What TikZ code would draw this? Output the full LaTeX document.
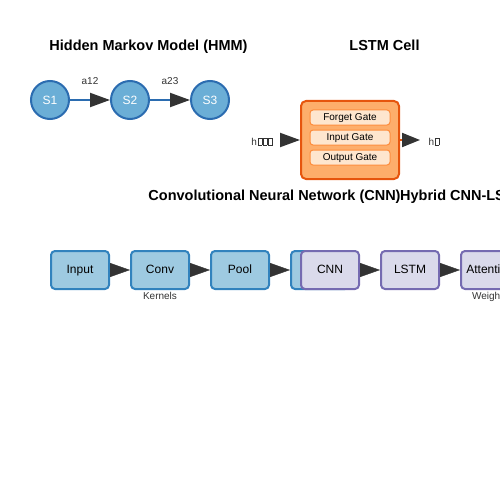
\documentclass[tikz,border=0pt]{standalone}
\usepackage{fontspec}
\setmainfont{Liberation Sans}
\usetikzlibrary{arrows.meta}
\definecolor{hmmfill}{HTML}{6BAED6}
\definecolor{hmmline}{HTML}{2B6CB0}
\definecolor{cnnfill}{HTML}{9ECAE1}
\definecolor{cnnline}{HTML}{3182BD}
\definecolor{hybfill}{HTML}{DADAEB}
\definecolor{hybline}{HTML}{756BB1}
\definecolor{lstmfill}{HTML}{FDAE6B}
\definecolor{lstmline}{HTML}{E6550D}
\definecolor{gatefill}{HTML}{FEE6CE}
\definecolor{gateline}{HTML}{FD8D3C}
\definecolor{tipgray}{HTML}{333333}
% empty glyph boxes, as the picture prints them
\newcommand{\tofu}{{\fboxsep=0pt\fboxrule=0.5pt\kern0.8pt\fbox{\rule{0pt}{7pt}\rule{3.4pt}{0pt}}}}
\begin{document}
\begin{tikzpicture}[x=1pt,y=-1pt,
    title/.style={font=\fontsize{14.5}{16}\selectfont\bfseries, text=black, anchor=base},
    state/.style={circle, draw=hmmline, fill=hmmfill, line width=2pt, minimum size=38pt,
      inner sep=0pt, text=white, font=\fontsize{12}{14}\selectfont},
    layer/.style={rounded corners=4pt, line width=2pt, minimum width=58pt, minimum height=38pt,
      inner sep=0pt, text height=8.6pt, text depth=2.4pt, font=\fontsize{12}{14}\selectfont},
    cnnbox/.style={layer, draw=cnnline, fill=cnnfill},
    hybbox/.style={layer, draw=hybline, fill=hybfill},
    gate/.style={rounded corners=3pt, draw=gateline, fill=gatefill, line width=1pt,
      minimum width=80pt, minimum height=15pt, inner sep=0pt, text height=7.2pt, text depth=2pt,
      font=\fontsize{10}{12}\selectfont},
    small/.style={font=\fontsize{10}{12}\selectfont, text=black!80, inner sep=0pt},
    tip/.style={-{Triangle[length=20pt,width=14pt,color=tipgray]}}]
    \useasboundingbox (0,0) rectangle (500,500);
    \clip (0,0) rectangle (500,500);

    % HMM
    \node[title] (hmmtitle) at (148.5,50.5) {Hidden Markov Model (HMM)};
    \node[state] (s1) at (50,100) {S1};
    \node[state] (s2) at (130,100) {S2};
    \node[state] (s3) at (210,100) {S3};
    \draw[hmmline, line width=2pt, tip] (s1) -- (s2) node[midway, small, yshift=19pt] {a12};
    \draw[hmmline, line width=2pt, tip] (s2) -- (s3) node[midway, small, yshift=19pt] {a23};

    % LSTM cell
    \node[title] (lstmtitle) at (384.5,50.5) {LSTM Cell};
    \node[rounded corners=5pt, draw=lstmline, fill=lstmfill, line width=2pt,
      minimum width=98pt, minimum height=78pt] (cell) at (350,140) {};
    \node[gate] (forget) at (350,117.5) {Forget Gate};
    \node[gate] (inputgate) at (350,137.5) {Input Gate};
    \node[gate] (outputgate) at (350,157.5) {Output Gate};
    \coordinate (hin) at (280,140);
    \coordinate (hout) at (420,140);
    \draw[lstmline, line width=2pt, tip] (hin) -- (cell.west);
    \draw[lstmline, line width=2pt, -{Triangle[length=18pt,width=14pt,color=tipgray]}] (cell.east) -- (hout);
    \node[small] (hprev) at (262,141.5) {h\tofu\tofu\tofu};
    \node[small] (hnext) at (434,141.5) {h\tofu};

    % CNN
    \node[title] (cnntitle) at (274.5,200.5) {Convolutional Neural Network (CNN)};
    \node[cnnbox] (input) at (80,270) {Input};
    \node[cnnbox] (conv) at (160,270) {Conv};
    \node[cnnbox] (pool) at (240,270) {Pool};
    \node[cnnbox] (fc) at (320,270) {};
    \draw[tip] (input) -- (conv);
    \draw[tip] (conv) -- (pool);
    \draw[tip] (pool) -- (fc);
    \node[small, anchor=north] (kernels) at ([yshift=-2pt]conv.south) {Kernels};

    % Hybrid
    \node[title, anchor=base west, inner sep=0pt] (hybtitle) at (400,200.5) {Hybrid CNN-LSTM};
    \node[hybbox] (hcnn) at (330,270) {CNN};
    \node[hybbox] (hlstm) at (410,270) {LSTM};
    \node[hybbox] (attn) at (490,270) {Attention};
    \draw[tip] (hcnn) -- (hlstm);
    \draw[tip] (hlstm) -- (attn);
    \node[small, anchor=north] (weights) at ([yshift=-2pt]attn.south) {Weights};
\end{tikzpicture}
\end{document}
